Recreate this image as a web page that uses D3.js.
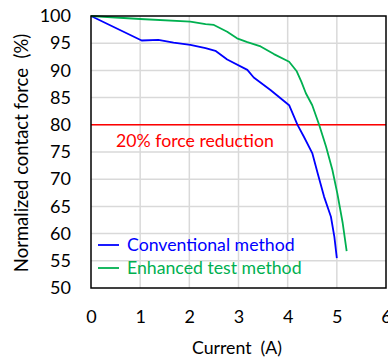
<!DOCTYPE html>
<html><head><meta charset="utf-8">
<script src="https://cdn.jsdelivr.net/npm/d3@7"></script>
<style>body{margin:0;background:#fff}svg{display:block}text{font-family:Lato,"Open Sans",sans-serif;white-space:pre}</style>
</head><body><div id="c"></div>
<script>
const conventionalX = [0, 1.03, 1.37, 1.68, 2.02, 2.33, 2.53, 2.77, 3.18, 3.31, 3.65, 4.03, 4.20, 4.33, 4.50, 4.61, 4.74, 4.88, 4.95, 5.0];
const conventionalY = [100, 95.5, 95.6, 95.1, 94.7, 94.1, 93.6, 92.0, 90.1, 88.7, 86.4, 83.6, 80, 77.8, 74.8, 71.1, 66.8, 63.1, 59.4, 55.5];
const enhancedX = [0, 1.0, 2.02, 2.33, 2.5, 2.77, 2.97, 3.18, 3.45, 3.72, 4.03, 4.18, 4.28, 4.37, 4.50, 4.64, 4.78, 4.91, 5.01, 5.12, 5.20];
const enhancedY = [100, 99.45, 98.95, 98.5, 98.35, 97.1, 95.9, 95.2, 94.4, 93.0, 91.6, 89.9, 87.9, 85.8, 83.6, 80, 76, 71.7, 67.4, 61.9, 56.8];
const xTicks = [0, 1, 2, 3, 4, 5, 6];
const yTicks = [50, 55, 60, 65, 70, 75, 80, 85, 90, 95, 100];
const seriesNames = ["Conventional method", "Enhanced test method"];
const seriesColors = ["#0000ff", "#00b050"];
const thresholdValue = 80;
const thresholdLabel = "20% force reduction";
const xTitle = "Current  (A)";
const yTitle = "Normalized contact force  (%)";

const W = 388, H = 357;
const m = {l: 91, r: 2, t: 16, b: 69};
const FS = 17.7;
const svg = d3.select("#c").append("svg").attr("width", W).attr("height", H);
const x = d3.scaleLinear().domain([0, 6]).range([m.l, W - m.r]);
const y = d3.scaleLinear().domain([50, 100]).range([H - m.b, m.t]);

// gridlines
svg.append("g").selectAll("line").data(xTicks.slice(1, -1)).join("line")
  .attr("x1", d => x(d)).attr("x2", d => x(d)).attr("y1", y(50)).attr("y2", y(100))
  .attr("stroke", "#d9d9d9").attr("stroke-width", 1.5);
svg.append("g").selectAll("line").data(yTicks.slice(1, -1)).join("line")
  .attr("x1", x(0)).attr("x2", x(6)).attr("y1", d => y(d)).attr("y2", d => y(d))
  .attr("stroke", "#d9d9d9").attr("stroke-width", 1.5);

// axes (labels only)
const xa = svg.append("g").attr("transform", `translate(0,${y(50)})`)
  .call(d3.axisBottom(x).tickValues(xTicks).tickFormat(d3.format("d")).tickSize(0).tickPadding(22));
const ya = svg.append("g").attr("transform", `translate(${x(0)},0)`)
  .call(d3.axisLeft(y).tickValues(yTicks).tickFormat(d3.format("d")).tickSize(0).tickPadding(20));
[xa, ya].forEach(a => {
  a.select(".domain").remove();
  a.selectAll("text").attr("font-family", "Lato").attr("font-size", 18).attr("fill", "#000");
});

// threshold
svg.append("line").attr("x1", x(0)).attr("x2", x(6)).attr("y1", y(thresholdValue)).attr("y2", y(thresholdValue))
  .attr("stroke", "#ff0000").attr("stroke-width", 1.5);
svg.append("text").attr("x", 116).attr("y", y(thresholdValue) + 16).attr("dy", "0.35em")
  .attr("font-size", FS).attr("fill", "#ff0000").text(thresholdLabel);

// lines
const line = d3.line().x(d => x(d[0])).y(d => y(d[1]));
const series = [
  conventionalX.map((v, i) => [v, conventionalY[i]]),
  enhancedX.map((v, i) => [v, enhancedY[i]])
];
series.forEach((s, i) => {
  svg.append("path").datum(s).attr("d", line).attr("fill", "none")
    .attr("stroke", seriesColors[i]).attr("stroke-width", 1.8).attr("stroke-linejoin", "round");
});

// legend
seriesNames.forEach((n, i) => {
  const ly = 245 + i * 23;
  svg.append("line").attr("x1", 98).attr("x2", 119).attr("y1", ly).attr("y2", ly)
    .attr("stroke", seriesColors[i]).attr("stroke-width", 1.8);
  svg.append("text").attr("x", 127).attr("y", ly).attr("dy", "0.35em")
    .attr("font-size", FS).attr("fill", seriesColors[i]).text(n);
});

// border
svg.append("rect").attr("x", x(0)).attr("y", y(100)).attr("width", x(6) - x(0)).attr("height", y(50) - y(100))
  .attr("fill", "none").attr("stroke", "#000").attr("stroke-width", 1.5);

// titles
svg.append("text").attr("x", 237).attr("y", 348).attr("dy", "0.35em").attr("text-anchor", "middle")
  .attr("font-size", FS).text(xTitle);
svg.append("text").attr("transform", `translate(22,${153}) rotate(-90)`)
  .attr("dy", "0.35em").attr("text-anchor", "middle").attr("font-size", 18.5).text(yTitle);
</script></body></html>
